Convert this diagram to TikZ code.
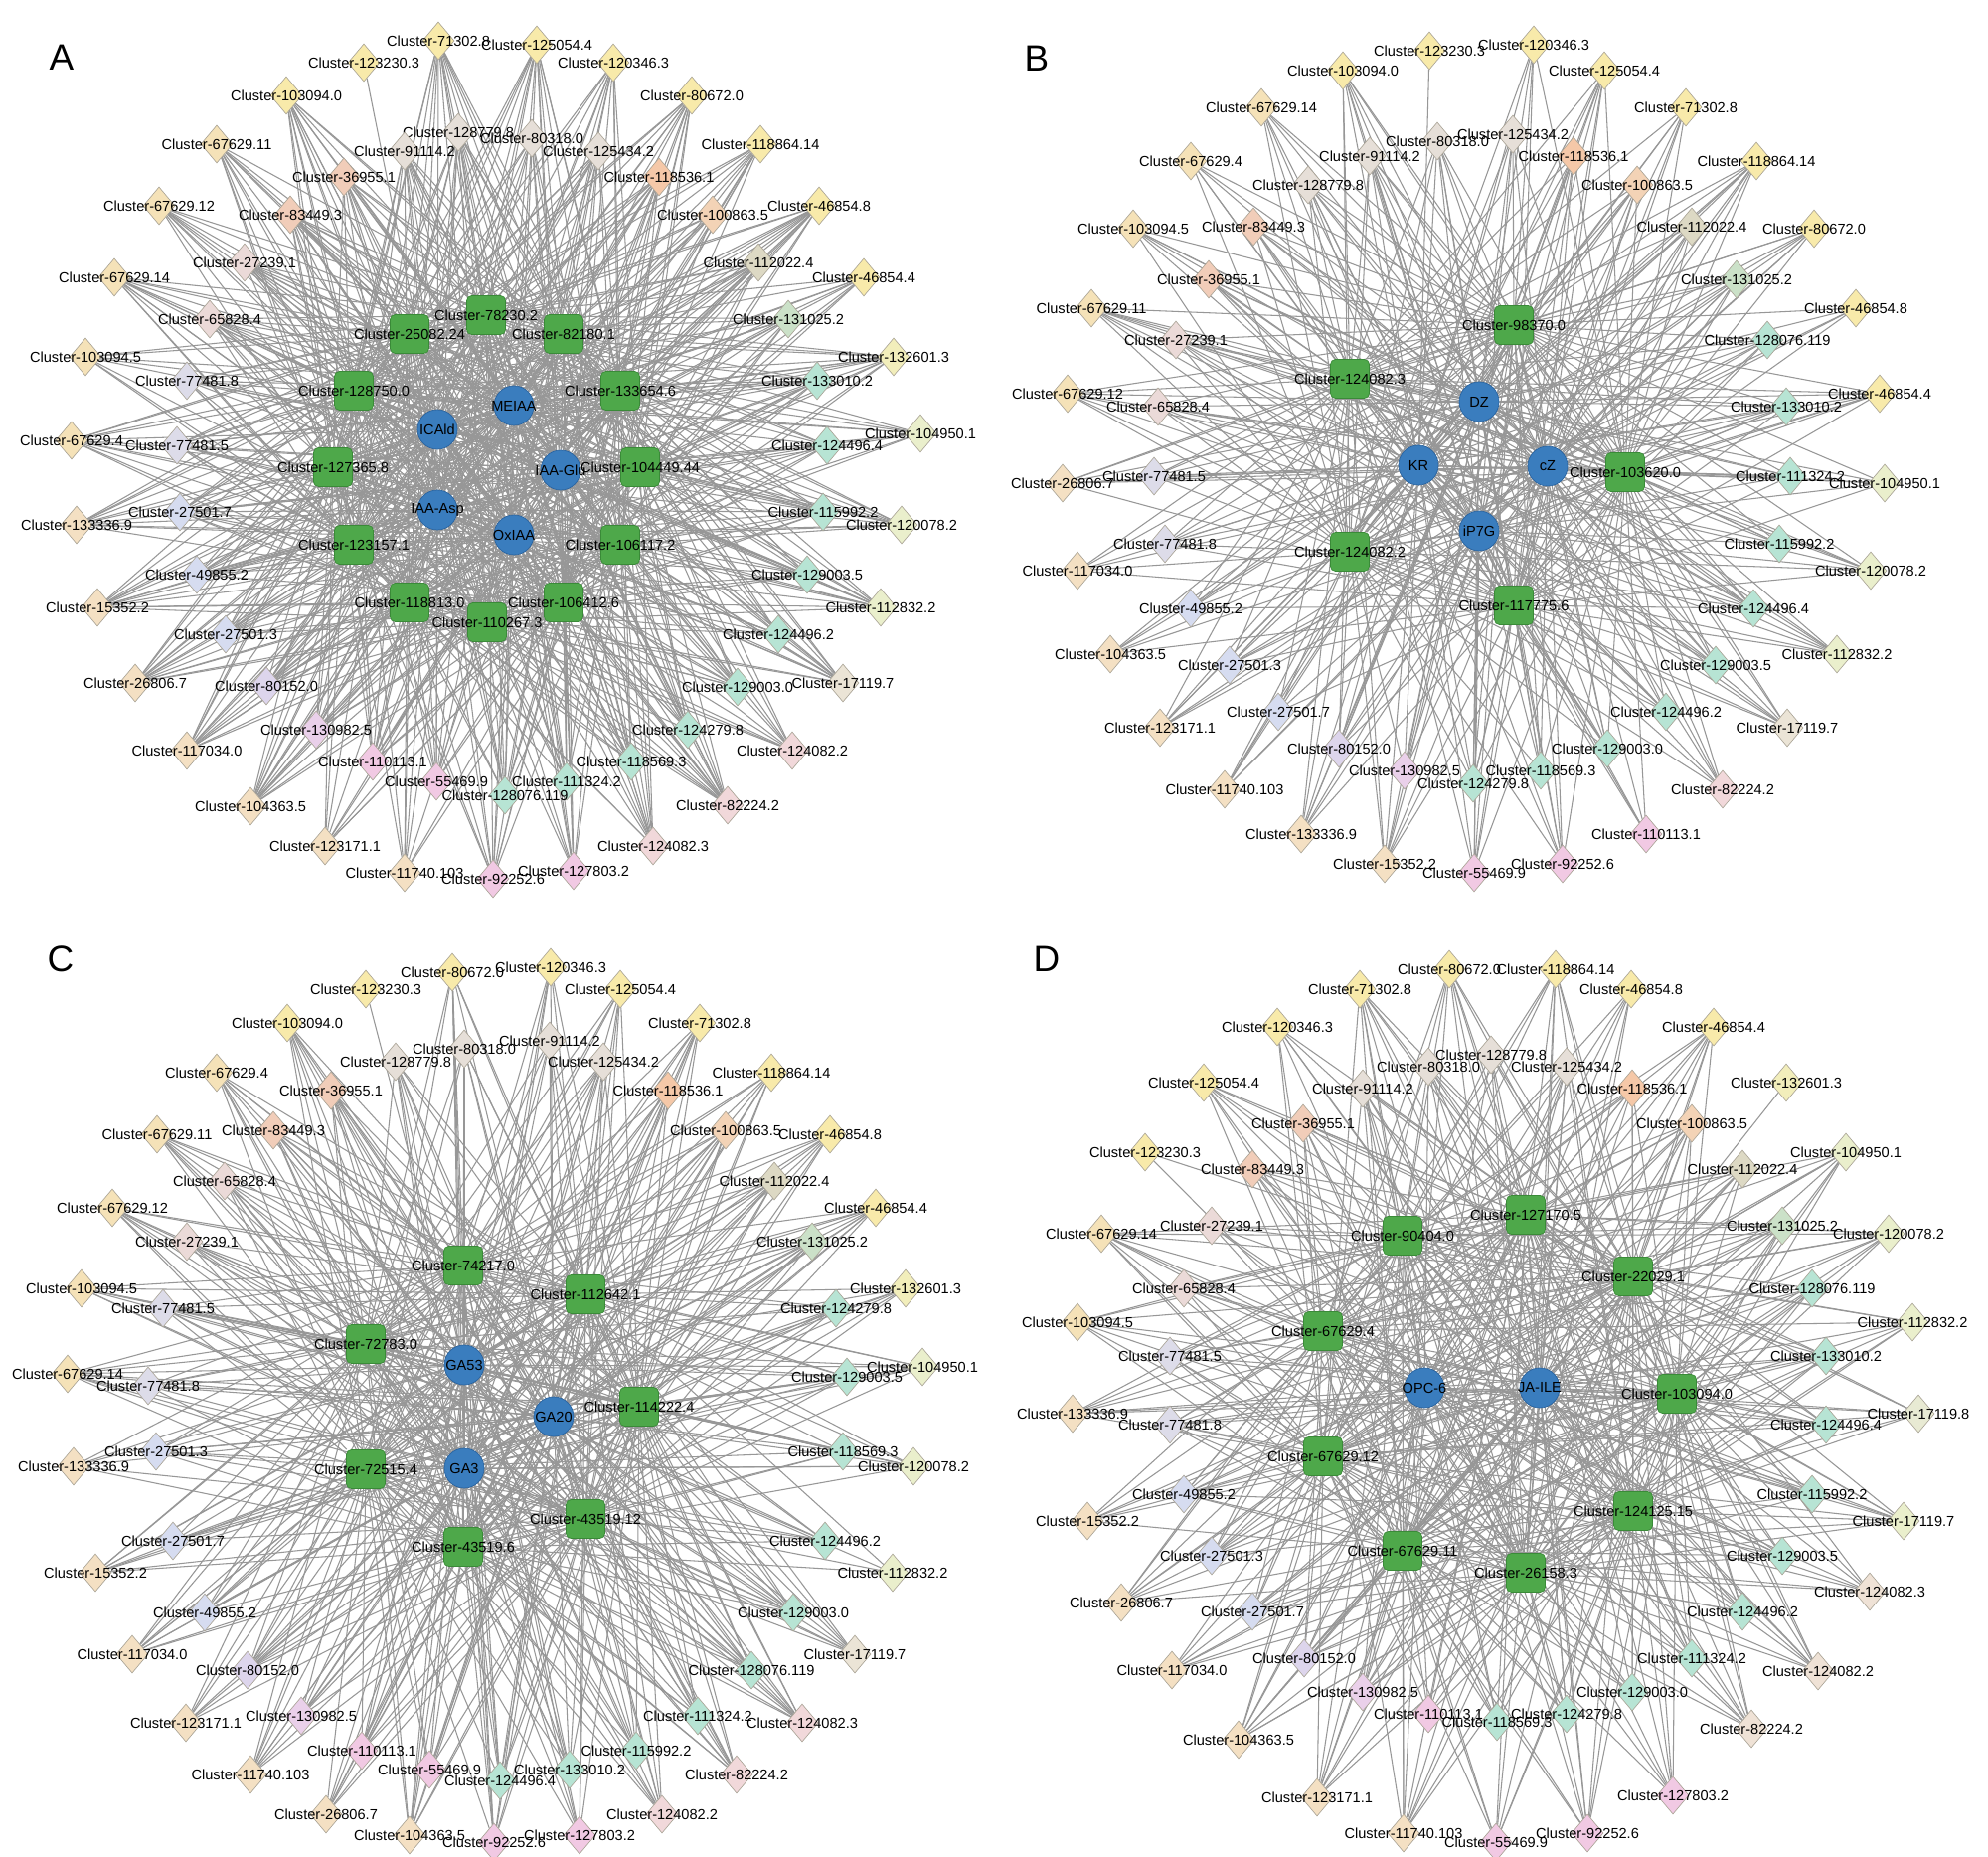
\documentclass[tikz,border=0pt]{standalone}
\usepackage{fontspec}
\setmainfont{Liberation Sans}
\usetikzlibrary{shapes.geometric}
\pgfdeclarelayer{bglayer}
\pgfdeclarelayer{edgelayer}
\pgfsetlayers{bglayer,edgelayer,main}
\definecolor{yel}{HTML}{F8EAAA}
\definecolor{ytn}{HTML}{F5E2B8}
\definecolor{tan}{HTML}{F4E0C3}
\definecolor{sal}{HTML}{F1CDB9}
\definecolor{ora}{HTML}{F5C8A8}
\definecolor{pch}{HTML}{F3D3B6}
\definecolor{gry}{HTML}{E6DFD8}
\definecolor{pgr}{HTML}{EBDAD8}
\definecolor{lava}{HTML}{DDDCE9}
\definecolor{blu}{HTML}{D6DCF0}
\definecolor{lavb}{HTML}{DDD5EC}
\definecolor{plv}{HTML}{EAD0EA}
\definecolor{pnk}{HTML}{F1C9E3}
\definecolor{lpk}{HTML}{F1D8DA}
\definecolor{bgb}{HTML}{EFE2D6}
\definecolor{mnt}{HTML}{B7E4D4}
\definecolor{sag}{HTML}{CBE1C8}
\definecolor{kha}{HTML}{DDD9C4}
\definecolor{lgr}{HTML}{EAEFCC}
\definecolor{lgb}{HTML}{E8EAD3}
\definecolor{lyl}{HTML}{F2EEBB}
\definecolor{bge}{HTML}{EBE4D6}
\definecolor{dbord}{HTML}{A8A294}
\definecolor{sqfill}{HTML}{4EA84A}
\definecolor{sqbord}{HTML}{3A8A38}
\definecolor{cfill}{HTML}{3A7DBE}
\definecolor{cbord}{HTML}{2A64A0}
\definecolor{edgec}{HTML}{979797}
\newcommand\lblfont{\fontsize{8.3}{9}\selectfont}
\tikzset{
  dia/.style={shape=diamond, draw=dbord, line width=0.35pt, inner sep=0pt, minimum width=0.64cm, minimum height=0.76cm},
  sqn/.style={shape=rectangle, rounded corners=0.1cm, fill=sqfill, draw=sqbord, line width=0.4pt, minimum size=0.78cm, inner sep=0pt},
  cirn/.style={shape=circle, fill=cfill, draw=cbord, line width=0.4pt, minimum size=0.8cm, inner sep=0pt},
  lbl/.style={font=\lblfont, inner sep=0pt, text=black},
  edge/.style={draw=edgec, line width=0.6pt},
  panel/.style={font=\fontsize{21}{24}\selectfont, inner sep=0pt}
}
\newcommand\Dn[5]{\node[dia,fill=#4,label={[lbl]center:Cluster-#5}] (#1) at (#2,#3) {};}
\newcommand\Sq[4]{\node[sqn,label={[lbl]center:Cluster-#4}] (#1) at (#2,#3) {};}
\newcommand\Ci[4]{\node[cirn,label={[lbl]center:#4}] (#1) at (#2,#3) {};}
% prefix, number of diamonds, number of hubs, probability
\newcommand\wire[4]{%
  \foreach \i in {1,...,#2}{\foreach \j in {1,...,#3}{%
    \pgfmathparse{rnd}%
    \ifdim\pgfmathresult pt<#4pt \draw[edge] (#1\i) -- (#1H\j);\fi}}}
% prefix, first circle index, number of hubs
\newcommand\hubwire[3]{%
  \pgfmathtruncatemacro\lastsq{#2-1}%
  \foreach \i in {1,...,\lastsq}{\foreach \j in {#2,...,#3}{%
    \draw[edge] (#1H\i) -- (#1H\j);}}}
\begin{document}
\begin{tikzpicture}[x=0.02cm,y=-0.02cm]
\begin{pgfonlayer}{bglayer}
\fill[white] (0,0) rectangle (2000,1868);
\end{pgfonlayer}
\useasboundingbox (0,0) rectangle (2000,1868);
\pgfmathsetseed{4242}
% ================= Panel A =================
\node[panel] (LA) at (62,58) {A};
\Dn{A1}{441}{41}{yel}{71302.8}
\Dn{A2}{540}{45}{yel}{125054.4}
\Dn{A3}{617}{63}{yel}{120346.3}
\Dn{A4}{696}{96}{yel}{80672.0}
\Dn{A5}{765}{145}{yel}{118864.14}
\Dn{A6}{824}{207}{yel}{46854.8}
\Dn{A7}{869}{279}{yel}{46854.4}
\Dn{A8}{899}{359}{lyl}{132601.3}
\Dn{A9}{926}{436}{lgr}{104950.1}
\Dn{A10}{907}{528}{lgr}{120078.2}
\Dn{A11}{886}{611}{lgr}{112832.2}
\Dn{A12}{848}{687}{bge}{17119.7}
\Dn{A13}{797}{755}{lpk}{124082.2}
\Dn{A14}{732}{810}{lpk}{82224.2}
\Dn{A15}{657}{851}{lpk}{124082.3}
\Dn{A16}{577}{876}{pnk}{127803.2}
\Dn{A17}{496}{884}{pnk}{92252.6}
\Dn{A18}{407}{878}{tan}{11740.103}
\Dn{A19}{327}{851}{tan}{123171.1}
\Dn{A20}{252}{811}{tan}{104363.5}
\Dn{A21}{188}{755}{tan}{117034.0}
\Dn{A22}{136}{687}{tan}{26806.7}
\Dn{A23}{98}{611}{tan}{15352.2}
\Dn{A24}{77}{528}{tan}{133336.9}
\Dn{A25}{72}{443}{ytn}{67629.4}
\Dn{A26}{86}{359}{ytn}{103094.5}
\Dn{A27}{115}{279}{ytn}{67629.14}
\Dn{A28}{160}{207}{ytn}{67629.12}
\Dn{A29}{218}{145}{ytn}{67629.11}
\Dn{A30}{288}{96}{yel}{103094.0}
\Dn{A31}{461}{133}{gry}{128779.8}
\Dn{A32}{535}{139}{gry}{80318.0}
\Dn{A33}{602}{152}{gry}{125434.2}
\Dn{A34}{663}{178}{ora}{118536.1}
\Dn{A35}{717}{216}{pch}{100863.5}
\Dn{A36}{763}{264}{kha}{112022.4}
\Dn{A37}{793}{321}{sag}{131025.2}
\Dn{A38}{822}{383}{mnt}{133010.2}
\Dn{A39}{832}{448}{mnt}{124496.4}
\Dn{A40}{828}{515}{mnt}{115992.2}
\Dn{A41}{812}{578}{mnt}{129003.5}
\Dn{A42}{783}{638}{mnt}{124496.2}
\Dn{A43}{742}{691}{mnt}{129003.0}
\Dn{A44}{692}{734}{mnt}{124279.8}
\Dn{A45}{635}{766}{mnt}{118569.3}
\Dn{A46}{570}{786}{mnt}{111324.2}
\Dn{A47}{508}{800}{mnt}{128076.119}
\Dn{A48}{439}{786}{pnk}{55469.9}
\Dn{A49}{375}{766}{pnk}{110113.1}
\Dn{A50}{318}{734}{plv}{130982.5}
\Dn{A51}{268}{690}{lavb}{80152.0}
\Dn{A52}{227}{638}{blu}{27501.3}
\Dn{A53}{198}{578}{blu}{49855.2}
\Dn{A54}{181}{515}{blu}{27501.7}
\Dn{A55}{178}{448}{lava}{77481.5}
\Dn{A56}{188}{383}{lava}{77481.8}
\Dn{A57}{211}{321}{pgr}{65828.4}
\Dn{A58}{246}{264}{pgr}{27239.1}
\Dn{A59}{292}{216}{sal}{83449.3}
\Dn{A60}{346}{178}{sal}{36955.1}
\Dn{A61}{407}{152}{gry}{91114.2}
\Dn{A62}{366}{63}{yel}{123230.3}
\Sq{AH1}{489}{317}{78230.2}
\Sq{AH2}{567}{336}{82180.1}
\Sq{AH3}{624}{393}{133654.6}
\Sq{AH4}{644}{470}{104449.44}
\Sq{AH5}{624}{548}{106117.2}
\Sq{AH6}{567}{606}{106412.6}
\Sq{AH7}{490}{626}{110267.3}
\Sq{AH8}{412}{606}{118813.0}
\Sq{AH9}{356}{548}{123157.1}
\Sq{AH10}{335}{470}{127365.8}
\Sq{AH11}{356}{393}{128750.0}
\Sq{AH12}{412}{336}{25082.24}
\Ci{AH13}{517}{408}{MEIAA}
\Ci{AH14}{564}{473}{IAA-Glu}
\Ci{AH15}{517}{538}{OxIAA}
\Ci{AH16}{440}{513}{IAA-Asp}
\Ci{AH17}{440}{432}{ICAld}
% ================= Panel B =================
\node[panel] (LB) at (1043,59) {B};
\Dn{B1}{1543}{45}{yel}{120346.3}
\Dn{B2}{1614}{71}{yel}{125054.4}
\Dn{B3}{1696}{108}{yel}{71302.8}
\Dn{B4}{1767}{162}{yel}{118864.14}
\Dn{B5}{1825}{230}{yel}{80672.0}
\Dn{B6}{1867}{310}{yel}{46854.8}
\Dn{B7}{1891}{396}{yel}{46854.4}
\Dn{B8}{1896}{486}{lgr}{104950.1}
\Dn{B9}{1882}{574}{lgr}{120078.2}
\Dn{B10}{1848}{658}{lgr}{112832.2}
\Dn{B11}{1798}{732}{bge}{17119.7}
\Dn{B12}{1733}{794}{lpk}{82224.2}
\Dn{B13}{1656}{839}{pnk}{110113.1}
\Dn{B14}{1572}{869}{pnk}{92252.6}
\Dn{B15}{1483}{878}{pnk}{55469.9}
\Dn{B16}{1393}{869}{tan}{15352.2}
\Dn{B17}{1309}{839}{tan}{133336.9}
\Dn{B18}{1232}{794}{tan}{11740.103}
\Dn{B19}{1167}{732}{tan}{123171.1}
\Dn{B20}{1117}{658}{tan}{104363.5}
\Dn{B21}{1084}{574}{tan}{117034.0}
\Dn{B22}{1069}{486}{tan}{26806.7}
\Dn{B23}{1074}{396}{ytn}{67629.12}
\Dn{B24}{1098}{310}{ytn}{67629.11}
\Dn{B25}{1140}{230}{ytn}{103094.5}
\Dn{B26}{1198}{162}{ytn}{67629.4}
\Dn{B27}{1269}{108}{ytn}{67629.14}
\Dn{B28}{1351}{71}{yel}{103094.0}
\Dn{B29}{1446}{142}{gry}{80318.0}
\Dn{B30}{1522}{135}{gry}{125434.2}
\Dn{B31}{1583}{157}{ora}{118536.1}
\Dn{B32}{1647}{186}{pch}{100863.5}
\Dn{B33}{1702}{228}{kha}{112022.4}
\Dn{B34}{1747}{281}{sag}{131025.2}
\Dn{B35}{1778}{342}{mnt}{128076.119}
\Dn{B36}{1797}{409}{mnt}{133010.2}
\Dn{B37}{1801}{479}{mnt}{111324.2}
\Dn{B38}{1790}{547}{mnt}{115992.2}
\Dn{B39}{1764}{612}{mnt}{124496.4}
\Dn{B40}{1726}{669}{mnt}{129003.5}
\Dn{B41}{1676}{716}{mnt}{124496.2}
\Dn{B42}{1617}{753}{mnt}{129003.0}
\Dn{B43}{1550}{775}{mnt}{118569.3}
\Dn{B44}{1482}{788}{mnt}{124279.8}
\Dn{B45}{1413}{775}{plv}{130982.5}
\Dn{B46}{1347}{753}{lavb}{80152.0}
\Dn{B47}{1286}{716}{blu}{27501.7}
\Dn{B48}{1237}{669}{blu}{27501.3}
\Dn{B49}{1198}{612}{blu}{49855.2}
\Dn{B50}{1172}{547}{lava}{77481.8}
\Dn{B51}{1161}{479}{lava}{77481.5}
\Dn{B52}{1165}{409}{pgr}{65828.4}
\Dn{B53}{1183}{342}{pgr}{27239.1}
\Dn{B54}{1216}{281}{sal}{36955.1}
\Dn{B55}{1261}{228}{sal}{83449.3}
\Dn{B56}{1316}{186}{gry}{128779.8}
\Dn{B57}{1378}{157}{gry}{91114.2}
\Dn{B58}{1438}{51}{yel}{123230.3}
\Sq{BH1}{1358}{381}{124082.3}
\Sq{BH2}{1523}{327}{98370.0}
\Sq{BH3}{1635}{475}{103620.0}
\Sq{BH4}{1523}{609}{117775.6}
\Sq{BH5}{1358}{555}{124082.2}
\Ci{BH6}{1427}{468}{KR}
\Ci{BH7}{1488}{404}{DZ}
\Ci{BH8}{1557}{469}{cZ}
\Ci{BH9}{1488}{534}{iP7G}
% ================= Panel C =================
\node[panel] (LC) at (61,965) {C};
\Dn{C1}{554}{973}{yel}{120346.3}
\Dn{C2}{624}{995}{yel}{125054.4}
\Dn{C3}{704}{1029}{yel}{71302.8}
\Dn{C4}{776}{1079}{yel}{118864.14}
\Dn{C5}{835}{1141}{yel}{46854.8}
\Dn{C6}{881}{1215}{yel}{46854.4}
\Dn{C7}{911}{1296}{lyl}{132601.3}
\Dn{C8}{928}{1375}{lgr}{104950.1}
\Dn{C9}{919}{1475}{lgr}{120078.2}
\Dn{C10}{898}{1582}{lgr}{112832.2}
\Dn{C11}{860}{1664}{bge}{17119.7}
\Dn{C12}{807}{1733}{lpk}{124082.3}
\Dn{C13}{741}{1785}{lpk}{82224.2}
\Dn{C14}{666}{1825}{lpk}{124082.2}
\Dn{C15}{583}{1846}{pnk}{127803.2}
\Dn{C16}{497}{1853}{pnk}{92252.6}
\Dn{C17}{412}{1846}{tan}{104363.5}
\Dn{C18}{328}{1825}{tan}{26806.7}
\Dn{C19}{252}{1785}{tan}{11740.103}
\Dn{C20}{187}{1733}{tan}{123171.1}
\Dn{C21}{133}{1664}{tan}{117034.0}
\Dn{C22}{96}{1582}{tan}{15352.2}
\Dn{C23}{74}{1475}{tan}{133336.9}
\Dn{C24}{68}{1382}{ytn}{67629.14}
\Dn{C25}{82}{1296}{ytn}{103094.5}
\Dn{C26}{113}{1215}{ytn}{67629.12}
\Dn{C27}{158}{1141}{ytn}{67629.11}
\Dn{C28}{218}{1079}{ytn}{67629.4}
\Dn{C29}{289}{1029}{yel}{103094.0}
\Dn{C30}{455}{978}{yel}{80672.0}
\Dn{C31}{467}{1055}{gry}{80318.0}
\Dn{C32}{553}{1047}{gry}{91114.2}
\Dn{C33}{607}{1068}{gry}{125434.2}
\Dn{C34}{672}{1097}{ora}{118536.1}
\Dn{C35}{730}{1137}{pch}{100863.5}
\Dn{C36}{779}{1188}{kha}{112022.4}
\Dn{C37}{817}{1249}{sag}{131025.2}
\Dn{C38}{841}{1316}{mnt}{124279.8}
\Dn{C39}{852}{1385}{mnt}{129003.5}
\Dn{C40}{848}{1460}{mnt}{118569.3}
\Dn{C41}{830}{1550}{mnt}{124496.2}
\Dn{C42}{798}{1622}{mnt}{129003.0}
\Dn{C43}{756}{1680}{mnt}{128076.119}
\Dn{C44}{702}{1726}{mnt}{111324.2}
\Dn{C45}{640}{1761}{mnt}{115992.2}
\Dn{C46}{573}{1780}{mnt}{133010.2}
\Dn{C47}{503}{1791}{mnt}{124496.4}
\Dn{C48}{432}{1780}{pnk}{55469.9}
\Dn{C49}{364}{1761}{pnk}{110113.1}
\Dn{C50}{303}{1726}{plv}{130982.5}
\Dn{C51}{249}{1680}{lavb}{80152.0}
\Dn{C52}{206}{1622}{blu}{49855.2}
\Dn{C53}{174}{1550}{blu}{27501.7}
\Dn{C54}{157}{1460}{blu}{27501.3}
\Dn{C55}{149}{1394}{lava}{77481.8}
\Dn{C56}{164}{1316}{lava}{77481.5}
\Dn{C57}{188}{1249}{pgr}{27239.1}
\Dn{C58}{226}{1188}{pgr}{65828.4}
\Dn{C59}{275}{1137}{sal}{83449.3}
\Dn{C60}{333}{1097}{sal}{36955.1}
\Dn{C61}{398}{1068}{gry}{128779.8}
\Dn{C62}{368}{995}{yel}{123230.3}
\Sq{CH1}{466}{1273}{74217.0}
\Sq{CH2}{589}{1302}{112642.1}
\Sq{CH3}{643}{1415}{114222.4}
\Sq{CH4}{589}{1528}{43519.12}
\Sq{CH5}{466}{1556}{43519.6}
\Sq{CH6}{368}{1478}{72515.4}
\Sq{CH7}{368}{1352}{72783.0}
\Ci{CH8}{467}{1373}{GA53}
\Ci{CH9}{557}{1425}{GA20}
\Ci{CH10}{467}{1477}{GA3}
% ================= Panel D =================
\node[panel] (LD) at (1053,965) {D};
\Dn{D1}{1565}{975}{yel}{118864.14}
\Dn{D2}{1641}{995}{yel}{46854.8}
\Dn{D3}{1724}{1033}{yel}{46854.4}
\Dn{D4}{1857}{1159}{lgr}{104950.1}
\Dn{D5}{1900}{1241}{lgr}{120078.2}
\Dn{D6}{1924}{1330}{lgr}{112832.2}
\Dn{D7}{1930}{1422}{lgb}{17119.8}
\Dn{D8}{1915}{1530}{lgr}{17119.7}
\Dn{D9}{1881}{1601}{bgb}{124082.3}
\Dn{D10}{1829}{1681}{bgb}{124082.2}
\Dn{D11}{1762}{1739}{bgb}{82224.2}
\Dn{D12}{1683}{1806}{pnk}{127803.2}
\Dn{D13}{1597}{1844}{pnk}{92252.6}
\Dn{D14}{1505}{1853}{pnk}{55469.9}
\Dn{D15}{1412}{1844}{tan}{11740.103}
\Dn{D16}{1325}{1808}{tan}{123171.1}
\Dn{D17}{1246}{1750}{tan}{104363.5}
\Dn{D18}{1179}{1680}{tan}{117034.0}
\Dn{D19}{1128}{1612}{tan}{26806.7}
\Dn{D20}{1094}{1530}{tan}{15352.2}
\Dn{D21}{1079}{1422}{tan}{133336.9}
\Dn{D22}{1084}{1330}{ytn}{103094.5}
\Dn{D23}{1108}{1241}{ytn}{67629.14}
\Dn{D24}{1211}{1089}{yel}{125054.4}
\Dn{D25}{1285}{1033}{yel}{120346.3}
\Dn{D26}{1368}{995}{yel}{71302.8}
\Dn{D27}{1458}{975}{yel}{80672.0}
\Dn{D28}{1500}{1061}{gry}{128779.8}
\Dn{D29}{1576}{1073}{gry}{125434.2}
\Dn{D30}{1642}{1095}{ora}{118536.1}
\Dn{D31}{1702}{1130}{pch}{100863.5}
\Dn{D32}{1753}{1176}{kha}{112022.4}
\Dn{D33}{1793}{1233}{sag}{131025.2}
\Dn{D34}{1823}{1296}{mnt}{128076.119}
\Dn{D35}{1837}{1364}{mnt}{133010.2}
\Dn{D36}{1837}{1433}{mnt}{124496.4}
\Dn{D37}{1823}{1503}{mnt}{115992.2}
\Dn{D38}{1793}{1565}{mnt}{129003.5}
\Dn{D39}{1753}{1621}{mnt}{124496.2}
\Dn{D40}{1702}{1668}{mnt}{111324.2}
\Dn{D41}{1642}{1702}{mnt}{129003.0}
\Dn{D42}{1576}{1724}{mnt}{124279.8}
\Dn{D43}{1506}{1732}{mnt}{118569.3}
\Dn{D44}{1437}{1724}{pnk}{110113.1}
\Dn{D45}{1371}{1702}{plv}{130982.5}
\Dn{D46}{1312}{1668}{lavb}{80152.0}
\Dn{D47}{1260}{1621}{blu}{27501.7}
\Dn{D48}{1219}{1565}{blu}{27501.3}
\Dn{D49}{1191}{1503}{blu}{49855.2}
\Dn{D50}{1177}{1433}{lava}{77481.8}
\Dn{D51}{1177}{1364}{lava}{77481.5}
\Dn{D52}{1191}{1296}{pgr}{65828.4}
\Dn{D53}{1219}{1233}{pgr}{27239.1}
\Dn{D54}{1260}{1176}{sal}{83449.3}
\Dn{D55}{1311}{1130}{sal}{36955.1}
\Dn{D56}{1371}{1095}{gry}{91114.2}
\Dn{D57}{1437}{1073}{gry}{80318.0}
\Dn{D58}{1797}{1089}{lyl}{132601.3}
\Dn{D59}{1152}{1159}{yel}{123230.3}
\Sq{DH1}{1411}{1243}{90404.0}
\Sq{DH2}{1535}{1222}{127170.5}
\Sq{DH3}{1643}{1284}{22029.1}
\Sq{DH4}{1687}{1402}{103094.0}
\Sq{DH5}{1643}{1520}{124125.15}
\Sq{DH6}{1535}{1582}{26158.3}
\Sq{DH7}{1411}{1560}{67629.11}
\Sq{DH8}{1331}{1465}{67629.12}
\Sq{DH9}{1331}{1339}{67629.4}
\Ci{DH10}{1433}{1396}{OPC-6}
\Ci{DH11}{1549}{1396}{JA-ILE}
% ================= Edges =================
\begin{pgfonlayer}{edgelayer}
\wire{A}{61}{17}{0.72}
\hubwire{A}{13}{17}
\draw[edge] (A62) -- (AH17);
\wire{B}{57}{9}{0.85}
\hubwire{B}{6}{9}
\draw[edge] (B58) -- (BH6);
\wire{C}{61}{10}{0.85}
\hubwire{C}{8}{10}
\draw[edge] (C62) -- (CH8);
\wire{D}{57}{11}{0.8}
\hubwire{D}{10}{11}
\draw[edge] (D58) -- (DH3);
\draw[edge] (D59) -- (DH9);
\draw[edge] (D59) -- (DH1);
\end{pgfonlayer}
\end{tikzpicture}
\end{document}
